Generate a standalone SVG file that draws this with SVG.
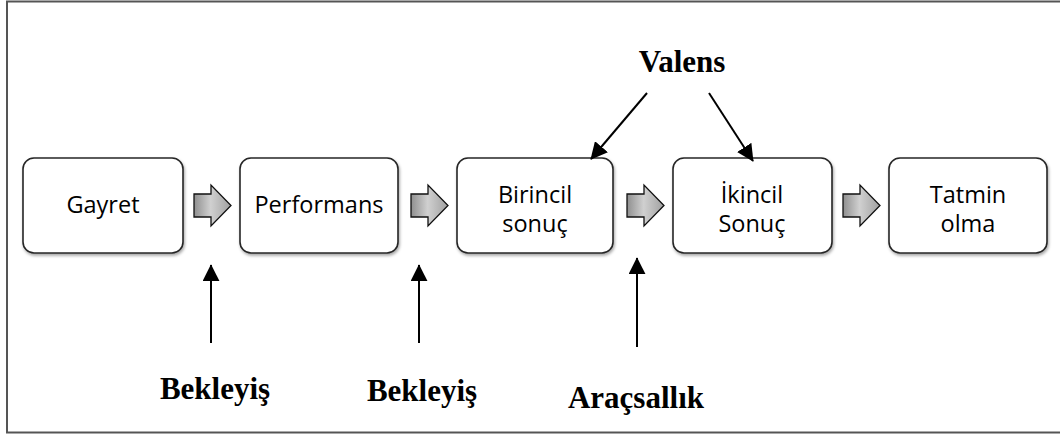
<svg xmlns="http://www.w3.org/2000/svg" width="1060" height="434" viewBox="0 0 1060 434">
<defs>
<style>
.box{fill:#fff;stroke:#262626;stroke-width:1.6;filter:url(#sh)}
.bt{font-family:"Open Sans","Noto Sans",sans-serif;font-size:23.5px;fill:#000;text-anchor:middle}
.lbl{font-family:"Liberation Serif","Times New Roman",serif;font-weight:bold;font-size:31px;fill:#000;text-anchor:middle}
.blk{fill:url(#g);stroke:#111;stroke-width:1.3}
</style>
<filter id="sh" x="-10%" y="-10%" width="125%" height="130%">
<feDropShadow dx="1" dy="2" stdDeviation="1.5" flood-color="#000" flood-opacity="0.35"/>
</filter>
<linearGradient id="g" x1="0" y1="0" x2="1" y2="0">
<stop offset="0" stop-color="#8f8f8f"/>
<stop offset="0.45" stop-color="#d0d0d0"/>
<stop offset="1" stop-color="#a0a0a0"/>
</linearGradient>
<marker id="ah2" viewBox="0 0 10 10" refX="9.5" refY="5" markerWidth="8.5" markerHeight="8.5" orient="auto">
<path d="M0,0 L10,5 L0,10 z" fill="#000"/>
</marker>
<path id="ba" d="M0,9 H17 V0 L37,20.5 L17,41 V32 H0 Z"/>
</defs>
<rect x="7" y="1.5" width="1070" height="431" fill="none" stroke="#555" stroke-width="2"/>
<g id="n1"><rect class="box" x="23" y="158" width="160" height="95" rx="11"/><text class="bt" x="103" y="213">Gayret</text></g>
<g id="n2"><rect class="box" x="240" y="158" width="158" height="95" rx="11"/><text class="bt" x="319" y="213">Performans</text></g>
<g id="n3"><rect class="box" x="457" y="158" width="156" height="95" rx="11"/><text class="bt" x="535" y="203">Birincil</text><text class="bt" x="535" y="232">sonuç</text></g>
<g id="n4"><rect class="box" x="673" y="158" width="159" height="95" rx="11"/><text class="bt" x="752" y="203">İkincil</text><text class="bt" x="752" y="232">Sonuç</text></g>
<g id="n5"><rect class="box" x="889" y="158" width="158" height="95" rx="11"/><text class="bt" x="968" y="203">Tatmin</text><text class="bt" x="968" y="232">olma</text></g>
<g id="labels">
<text class="lbl" x="682" y="72">Valens</text>
<text class="lbl" x="215" y="399">Bekleyiş</text>
<text class="lbl" x="422" y="401">Bekleyiş</text>
<text class="lbl" x="636" y="408">Araçsallık</text>
</g>
<g id="connectors">
<use href="#ba" class="blk" x="194" y="185"/>
<use href="#ba" class="blk" x="411" y="185"/>
<use href="#ba" class="blk" x="627" y="185"/>
<use href="#ba" class="blk" x="843" y="185"/>
<path d="M647,93 L591,159" stroke="#000" stroke-width="2" marker-end="url(#ah2)"/>
<path d="M709,93 L753,161" stroke="#000" stroke-width="2" marker-end="url(#ah2)"/>
<path d="M211,343 V265" stroke="#000" stroke-width="2" marker-end="url(#ah2)"/>
<path d="M419,343 V265" stroke="#000" stroke-width="2" marker-end="url(#ah2)"/>
<path d="M637,347 V258" stroke="#000" stroke-width="2" marker-end="url(#ah2)"/>
</g>
</svg>
